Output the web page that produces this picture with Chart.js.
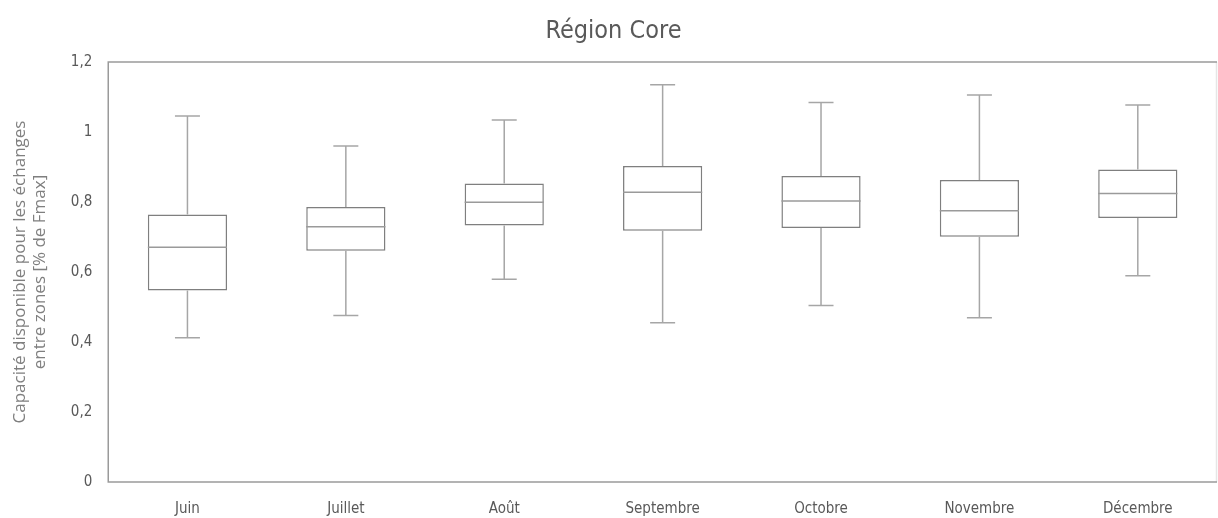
<!DOCTYPE html>
<html>
<head>
<meta charset="utf-8">
<script src="https://cdn.jsdelivr.net/npm/chart.js@4.4.0/dist/chart.umd.min.js"></script>
<style>
  body { margin: 0; background: #fff; }
  #wrap { width: 1218px; height: 518px; }
</style>
</head>
<body>
<div id="wrap"><canvas id="myChart"></canvas></div>
<script>
// mois
const mois = ["Juin", "Juillet", "Août", "Septembre", "Octobre", "Novembre", "Décembre"];

// valeurs
const minimums = [0.412, 0.476, 0.579, 0.455, 0.504, 0.469, 0.589];
const q1 = [0.547, 0.661, 0.733, 0.718, 0.726, 0.701, 0.754];
const medianes = [0.671, 0.729, 0.799, 0.828, 0.803, 0.775, 0.824];
const q3 = [0.764, 0.786, 0.853, 0.903, 0.874, 0.863, 0.893];
const maximums = [1.046, 0.960, 1.034, 1.135, 1.084, 1.106, 1.077];

const yTicks = [0, 0.2, 0.4, 0.6, 0.8, 1, 1.2];

// moustaches + médiane, dessinées avec l'échelle y
const moustaches = {
  id: 'moustaches',
  afterDatasetsDraw(chart) {
    const ctx = chart.ctx;
    const y = chart.scales.y;
    const meta = chart.getDatasetMeta(0);
    ctx.save();
    meta.data.forEach((bar, i) => {
      const x = bar.x;
      const demi = bar.width / 2;
      const cap = 12.5;
      ctx.strokeStyle = '#a6a6a6';
      ctx.lineWidth = 1.5;
      ctx.beginPath();
      ctx.moveTo(x, y.getPixelForValue(q3[i]));
      ctx.lineTo(x, y.getPixelForValue(maximums[i]));
      ctx.moveTo(x, y.getPixelForValue(q1[i]));
      ctx.lineTo(x, y.getPixelForValue(minimums[i]));
      ctx.moveTo(x - cap, y.getPixelForValue(maximums[i]));
      ctx.lineTo(x + cap, y.getPixelForValue(maximums[i]));
      ctx.moveTo(x - cap, y.getPixelForValue(minimums[i]));
      ctx.lineTo(x + cap, y.getPixelForValue(minimums[i]));
      ctx.stroke();
      // médiane
      ctx.strokeStyle = '#9a9a9a';
      ctx.beginPath();
      ctx.moveTo(x - demi, y.getPixelForValue(medianes[i]));
      ctx.lineTo(x + demi, y.getPixelForValue(medianes[i]));
      ctx.stroke();
    });
    ctx.restore();
  }
};

// cadre de la zone de tracé
const cadre = {
  id: 'cadre',
  beforeDatasetsDraw(chart) {
    const a = chart.chartArea;
    const ctx = chart.ctx;
    ctx.save();
    ctx.lineWidth = 1.5;
    ctx.strokeStyle = '#e6e6e6';
    ctx.beginPath();
    ctx.moveTo(a.right - 0.5, a.top);
    ctx.lineTo(a.right - 0.5, a.bottom);
    ctx.stroke();
    ctx.strokeStyle = '#9a9a9a';
    ctx.beginPath();
    ctx.moveTo(a.right, a.top);
    ctx.lineTo(a.left, a.top);
    ctx.lineTo(a.left, a.bottom);
    ctx.lineTo(a.right, a.bottom);
    ctx.stroke();
    ctx.restore();
  }
};

new Chart("myChart", {
  type: "bar",
  data: {
    labels: mois,
    datasets: [{
      data: mois.map((m, i) => [q1[i], q3[i]]),
      backgroundColor: "#ffffff",
      borderColor: "#7f7f7f",
      borderWidth: 1.5,
      borderSkipped: false,
      barPercentage: 0.5,
      categoryPercentage: 1
    }]
  },
  options: {
    responsive: true,
    maintainAspectRatio: false,
    animation: false,
    locale: 'fr-FR',
    layout: { padding: { left: 10, right: 1, top: 0, bottom: -18 } },
    plugins: {
      legend: { display: false },
      tooltip: { enabled: false },
      title: {
        display: true,
        text: "Région Core",
        color: "#595959",
        font: { family: "'Liberation Sans Narrow', 'DejaVu Sans Condensed', sans-serif", size: 25, weight: 'normal' },
        padding: { top: 16, bottom: 16 }
      }
    },
    scales: {
      x: {
        grid: { display: false, drawTicks: false },
        border: { display: false },
        ticks: {
          color: "#595959",
          padding: 18,
          font: { family: "'Liberation Sans Narrow', 'DejaVu Sans Condensed', sans-serif", size: 15 }
        }
      },
      y: {
        min: 0,
        max: 1.2,
        afterBuildTicks(axis) { axis.ticks = yTicks.map(v => ({ value: v })); },
        grid: { display: false, drawTicks: false },
        border: { display: false },
        ticks: {
          color: "#595959",
          padding: 16,
          callback: v => String(v).replace('.', ','),
          font: { family: "'Liberation Sans Narrow', 'DejaVu Sans Condensed', sans-serif", size: 15 }
        },
        title: {
          display: true,
          text: ["Capacité disponible pour les échanges", "entre zones [% de Fmax]"],
          color: "#7f7f7f",
          padding: { top: 0, bottom: 4 },
          font: { family: "'Open Sans', 'Noto Sans', sans-serif", size: 17 }
        }
      }
    }
  },
  plugins: [cadre, moustaches]
});
</script>
</body>
</html>
